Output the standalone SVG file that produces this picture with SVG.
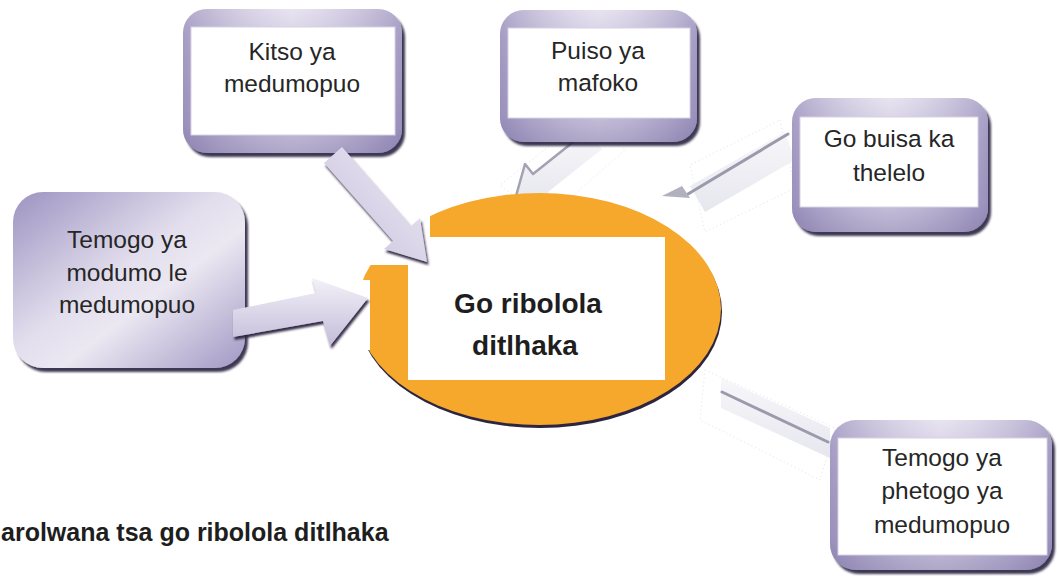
<svg xmlns="http://www.w3.org/2000/svg" width="1059" height="579" viewBox="0 0 1059 579">
<defs>
<style>
.t{font-family:"Liberation Sans",Arial,sans-serif;font-size:24.5px;fill:#262626;text-anchor:middle}
.tb{font-family:"Liberation Sans",Arial,sans-serif;font-weight:bold;fill:#1e1e1e}
.inner{fill:#ffffff;stroke:#d6d2e2;stroke-width:1}
.frame{fill:url(#frameG);filter:url(#sh)}
.gloss{fill:url(#glossG)}
.faint{fill:#ffffff;stroke:#e2e2e8;stroke-width:1;stroke-dasharray:1 3}
.stripe{stroke:#9a9aac;stroke-width:3;fill:none;stroke-linecap:round}
.shaft{fill:url(#faintG)}
</style>
<linearGradient id="frameG" x1="0" y1="0" x2="0" y2="1">
<stop offset="0" stop-color="#ddd8ea"/>
<stop offset="0.2" stop-color="#c6bfdb"/>
<stop offset="0.8" stop-color="#aca3ca"/>
<stop offset="1" stop-color="#8c82b0"/>
</linearGradient>
<linearGradient id="glossG" x1="0" y1="0" x2="1" y2="0">
<stop offset="0" stop-color="#8a80b0" stop-opacity="0.55"/>
<stop offset="0.5" stop-color="#ffffff" stop-opacity="0.3"/>
<stop offset="1" stop-color="#8a80b0" stop-opacity="0.55"/>
</linearGradient>
<linearGradient id="box4G" x1="0" y1="0" x2="1" y2="1">
<stop offset="0" stop-color="#9d93c1"/>
<stop offset="0.45" stop-color="#e2deed"/>
<stop offset="0.6" stop-color="#ebe8f2"/>
<stop offset="1" stop-color="#a198c4"/>
</linearGradient>
<linearGradient id="arrG" x1="0" y1="0" x2="0" y2="1">
<stop offset="0" stop-color="#f3f1f8"/>
<stop offset="1" stop-color="#c3bcd9"/>
</linearGradient>
<linearGradient id="arr1G" x1="1" y1="0" x2="0" y2="1">
<stop offset="0" stop-color="#eeebf5"/>
<stop offset="1" stop-color="#c6bfdb"/>
</linearGradient>
<linearGradient id="faintG" x1="0" y1="0" x2="0" y2="1">
<stop offset="0" stop-color="#f7f7fa"/>
<stop offset="1" stop-color="#e6e6ee"/>
</linearGradient>
<filter id="sh" x="-10%" y="-10%" width="125%" height="130%">
<feDropShadow dx="3" dy="4" stdDeviation="1.2" flood-color="#2c2440" flood-opacity="0.9"/>
</filter>
<filter id="sha" x="-10%" y="-10%" width="130%" height="130%">
<feDropShadow dx="1.5" dy="3" stdDeviation="1" flood-color="#2c2440" flood-opacity="0.95"/>
</filter>
</defs>
<rect width="1059" height="579" fill="#ffffff"/>

<g id="faint-connectors">
<!-- arrow from Puiso ya mafoko -->
<polygon class="faint" points="585,118 625,150 545,220 500,185"/>
<polygon class="shaft" points="587,131 602,149 548,192 555,202 513,205 525,164 533,174"/>
<polyline points="587,131 533,174 525,164 516,196" stroke="#a2a2b2" stroke-width="2.5" fill="none" stroke-linejoin="round"/>
<!-- arrow from Go buisa ka thelelo -->
<polygon class="faint" points="780,120 795,188 705,232 690,165"/>
<polygon class="shaft" points="785,132 795,160 705,212 690,186"/>
<line class="stripe" x1="788" y1="134" x2="688" y2="194"/>
<polygon points="662,196 682,186 690,198" fill="#b0b0be"/>
<!-- arrow to Temogo ya phetogo -->
<polygon class="faint" points="705,370 835,428 820,480 700,420"/>
<polygon class="shaft" points="721,378 830,428 830,458 721,408"/>
<line class="stripe" x1="722" y1="392" x2="828" y2="442"/>
</g>

<g id="node-center">
<ellipse cx="540" cy="312" rx="182" ry="116" fill="#2d2540"/>
<ellipse cx="539" cy="309" rx="182" ry="116" fill="#f5a82c"/>
<rect x="318" y="150" width="112" height="115" fill="#ffffff"/>
<rect x="233" y="280" width="137" height="70" fill="#ffffff"/>
<rect x="357" y="350" width="8" height="78" fill="#ffffff"/>
<rect x="408" y="237" width="257" height="143" fill="#ffffff"/>
<text class="tb" font-size="28" x="528" y="313" text-anchor="middle">Go ribolola</text>
<text class="tb" font-size="28" x="525" y="355" text-anchor="middle">ditlhaka</text>
</g>

<g id="node-kitso">
<rect class="frame" x="183" y="9" width="219" height="144" rx="24"/>
<rect class="gloss" x="183" y="9" width="219" height="144" rx="24"/>
<rect class="inner" x="191" y="27" width="204" height="108"/>
<text class="t" x="292" y="60">Kitso ya</text>
<text class="t" x="292" y="92">medumopuo</text>
</g>

<g id="node-puiso">
<rect class="frame" x="500" y="10" width="197" height="132" rx="24"/>
<rect class="gloss" x="500" y="10" width="197" height="132" rx="24"/>
<rect class="inner" x="508" y="28" width="182" height="90"/>
<text class="t" x="598" y="59">Puiso ya</text>
<text class="t" x="598" y="91">mafoko</text>
</g>

<g id="node-buisa">
<rect class="frame" x="792" y="98" width="196" height="134" rx="24"/>
<rect class="gloss" x="792" y="98" width="196" height="134" rx="24"/>
<rect class="inner" x="800" y="117" width="178" height="90"/>
<text class="t" x="889" y="147">Go buisa ka</text>
<text class="t" x="889" y="181">thelelo</text>
</g>

<g id="node-modumo">
<rect x="13" y="192" width="232" height="176" rx="30" fill="url(#box4G)" filter="url(#sh)"/>
<text class="t" x="127" y="248">Temogo ya</text>
<text class="t" x="127" y="281">modumo le</text>
<text class="t" x="127" y="313">medumopuo</text>
</g>

<g id="node-phetogo">
<rect class="frame" x="830" y="420" width="222" height="150" rx="26"/>
<rect class="gloss" x="830" y="420" width="222" height="150" rx="26"/>
<rect class="inner" x="838" y="438" width="209" height="117"/>
<text class="t" x="942" y="466">Temogo ya</text>
<text class="t" x="942" y="499">phetogo ya</text>
<text class="t" x="942" y="533">medumopuo</text>
</g>

<g id="connectors">
<polygon points="342,147 411,226 420,218 427,262 384,249 393,241 324,163" fill="url(#arr1G)" filter="url(#sha)"/>
<polygon points="233,310 316,293 312,278 368,298 330,346 323,321 233,337" fill="url(#arrG)" filter="url(#sha)"/>
</g>

<text class="tb" font-size="25" x="1" y="541">arolwana tsa go ribolola ditlhaka</text>
</svg>
